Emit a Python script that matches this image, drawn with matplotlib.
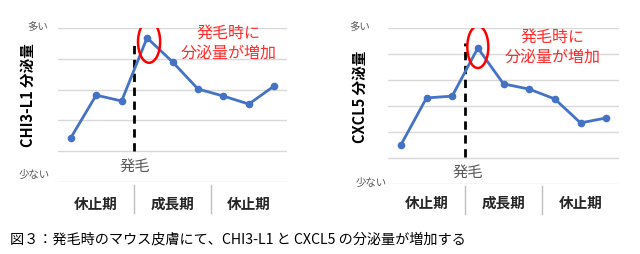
import matplotlib.pyplot as plt
from matplotlib.patches import Ellipse

plt.rcParams['font.family'] = ['Noto Sans CJK JP', 'DejaVu Sans']

# values (relative units, 0 = 少ない)
stages = ['休止期', '成長期', '休止期']
chi3l1 = [1.43, 2.82, 2.63, 4.68, 3.90, 3.02, 2.79, 2.53, 3.12]
cxcl5 = [1.50, 3.31, 3.38, 5.23, 3.85, 3.65, 3.27, 2.35, 2.54]

blue = '#4472C4'
grid = '#d9d9d9'
gray = '#595959'
red = '#ff2b2b'

W, H = 640, 254
fig = plt.figure(figsize=(W / 100, H / 100), dpi=100)


def px_axes(x0, x1, ytop, ybot):
    return fig.add_axes([x0 / W, (H - ybot) / H, (x1 - x0) / W, (ybot - ytop) / H])


def panel(ax, vals, ymax, title, top_lbl, bot_lbl, dash, hatsumo, note, ell):
    n = len(vals)
    x = list(range(n))
    ax.plot(x, vals, color=blue, lw=2, marker='o', ms=4.5, zorder=3)
    ax.set_xlim(-0.5, n - 0.5)
    ax.set_ylim(0, ymax)
    ax.set_yticks(range(ymax + 1))
    ax.set_yticklabels([])
    ax.set_xticks([])
    ax.tick_params(length=0)
    ax.grid(axis='y', color=grid, lw=1)
    for s in ax.spines.values():
        s.set_visible(False)

    # 多い / 少ない
    ax.text(top_lbl[0], top_lbl[1], '多い', transform=ax.get_yaxis_transform(),
            ha='right', va='center', fontsize=7.5, color=gray)
    ax.text(bot_lbl[0], bot_lbl[1], '少ない', transform=ax.get_yaxis_transform(),
            ha='right', va='center', fontsize=7.5, color=gray)
    ax.text(title[1], title[2], title[0], transform=ax.transAxes, rotation=90,
            ha='center', va='center', fontsize=10.5, fontweight='bold', color='black')

    # hair growth marker
    ax.plot([2.5, 2.5], dash, color='black', lw=2, ls=(0, (3, 2)), zorder=2)
    ax.text(hatsumo[0], hatsumo[1], '発毛', ha='center', va='center',
            fontsize=11, color=gray)

    ax.add_patch(Ellipse(ell[:2], ell[2], ell[3], fill=False, ec='red', lw=1.8, zorder=4))
    ax.text(note[0], note[1], '発毛時に\n分泌量が増加', ha='center', va='center',
            fontsize=11.5, color=red, linespacing=1.2)

    # stage axis below the plot
    tr = ax.get_xaxis_transform()
    yb0, yb1, ylab = note[2]
    for xs in (2.5, 5.5):
        ax.plot([xs, xs], [yb0, yb1], transform=tr, color='#bfbfbf', lw=1, clip_on=False)
    for i, s in enumerate(stages):
        ax.text(1 + 3 * i, ylab, s, transform=tr, ha='center', va='center',
                fontsize=10.5, fontweight='bold', color='#262626')


ax1 = px_axes(58, 287, 28, 182)
panel(ax1, chi3l1, 5, ('CHI3-L1 分泌量', -0.131, 0.565),
      (-0.044, 5.0), (-0.035, 0.23), [1.0, 4.5], (2.5, 0.52),
      (6.2, 4.51, (-0.02, -0.2, -0.143)), (3.08, 4.55, 0.87, 1.36))

ax2 = px_axes(388, 619, 28, 184)
panel(ax2, cxcl5, 6, ('CXCL5 分泌量', -0.121, 0.558),
      (-0.078, 6.0), (-0.005, 0.05), [1.04, 5.42], (2.62, 0.46),
      (5.92, 5.27, (-0.01, -0.19, -0.12)), (3.0, 5.27, 0.82, 1.62))

fig.text(10 / W, 1 - 240 / H, '図３：発毛時のマウス皮膚にて、CHI3-L1 と CXCL5 の分泌量が増加する',
         ha='left', va='center', fontsize=10.2, color='black')

fig.savefig('out.png', dpi=100)
